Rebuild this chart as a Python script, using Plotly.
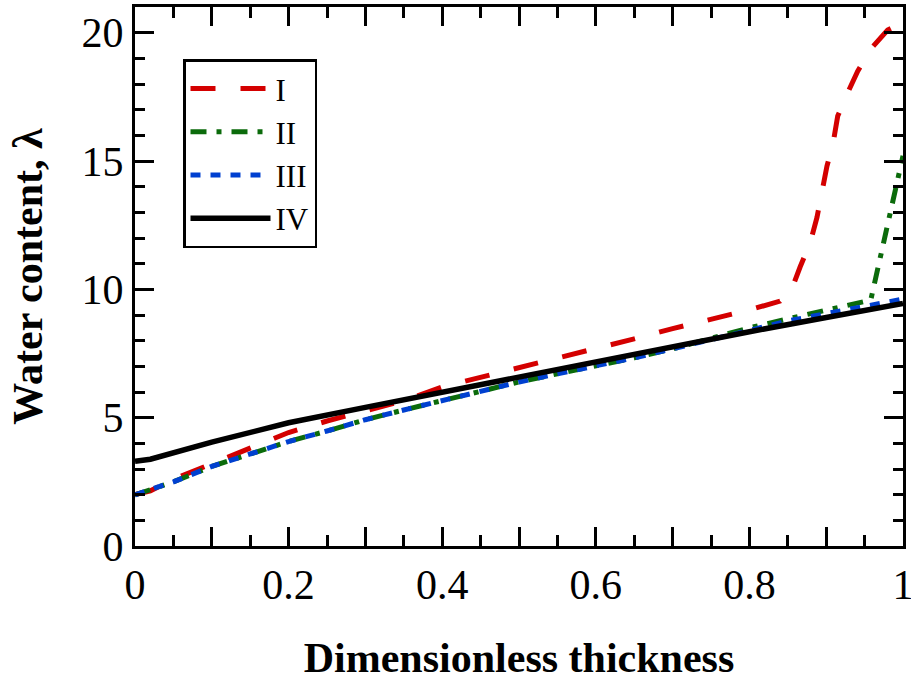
import plotly.graph_objects as go

# ---- data ----
x_I = [0, 0.02, 0.05, 0.1, 0.15, 0.2, 0.25, 0.3, 0.35, 0.4, 0.45, 0.5, 0.55, 0.6, 0.65, 0.7,
       0.75, 0.8, 0.84, 0.855, 0.866, 0.879, 0.888, 0.894, 0.901, 0.909, 0.915, 0.927, 0.941,
       0.959, 0.98, 1.0]
y_I = [2.0, 2.15, 2.6, 3.2, 3.8, 4.42, 4.87, 5.27, 5.66, 6.2, 6.57, 6.94, 7.3, 7.7, 8.07, 8.47,
       8.83, 9.2, 9.54, 10.0, 10.87, 11.8, 12.8, 13.75, 14.8, 15.7, 16.75, 17.6, 18.5,
       19.4, 20.1, 20.4]

x_II = [0, 0.05, 0.1, 0.15, 0.2, 0.25, 0.3, 0.35, 0.4, 0.45, 0.5, 0.55, 0.6, 0.65, 0.7, 0.75,
        0.8, 0.85, 0.9, 0.93, 0.958, 1.0]
y_II = [1.99, 2.5, 3.1, 3.58, 4.07, 4.48, 4.92, 5.3, 5.67, 6.06, 6.39, 6.71, 7.01, 7.33, 7.68,
        8.1, 8.5, 8.85, 9.17, 9.38, 9.58, 15.2]

x_III = [0, 0.05, 0.1, 0.15, 0.2, 0.25, 0.3, 0.35, 0.4, 0.45, 0.5, 0.55, 0.6, 0.65, 0.7, 0.75,
         0.8, 0.85, 0.9, 0.95, 1.0]
y_III = [1.99, 2.5, 3.1, 3.58, 4.07, 4.48, 4.92, 5.3, 5.67, 6.06, 6.39, 6.71, 7.01, 7.33, 7.68,
         8.02, 8.4, 8.77, 9.05, 9.36, 9.62]

x_IV = [0, 0.02, 0.1, 0.2, 0.3, 0.4, 0.5, 0.6, 0.7, 0.8, 0.9, 1.0]
y_IV = [3.3, 3.38, 4.05, 4.8, 5.4, 6.0, 6.6, 7.2, 7.8, 8.35, 8.9, 9.45]

series_names = ["I", "II", "III", "IV"]

x_tickvals = [0, 0.1, 0.2, 0.3, 0.4, 0.5, 0.6, 0.7, 0.8, 0.9, 1.0]
x_ticktext = ["0", "", "0.2", "", "0.4", "", "0.6", "", "0.8", "", "1"]
y_tickvals = [0, 5, 10, 15, 20]
y_ticktext = ["0", "5", "10", "15", "20"]

FONT = "Liberation Serif"

fig = go.Figure()
fig.add_trace(go.Scatter(x=x_I, y=y_I, mode="lines", name=series_names[0],
                         line=dict(color="#d40000", width=5, dash="25px,25px")))
fig.add_trace(go.Scatter(x=x_II, y=y_II, mode="lines", name=series_names[1],
                         line=dict(color="#0b6b0b", width=5, dash="16px,10px,5px,10px")))
fig.add_trace(go.Scatter(x=x_III, y=y_III, mode="lines", name=series_names[2],
                         line=dict(color="#0040d0", width=5, dash="10px,10px")))
fig.add_trace(go.Scatter(x=x_IV, y=y_IV, mode="lines", name=series_names[3],
                         line=dict(color="black", width=5.5)))

axis_common = dict(
    showline=True, linecolor="black", linewidth=3, mirror="allticks",
    ticks="inside", tickcolor="black", tickwidth=2.5,
    showgrid=False, zeroline=False, ticklabeloverflow="allow",
    tickfont=dict(family=FONT, size=42, color="black"),
)

fig.update_xaxes(
    range=[0, 1], tickmode="array", tickvals=x_tickvals, ticktext=x_ticktext,
    ticklen=19,
    minor=dict(dtick=0.05, ticks="inside", ticklen=11, tickwidth=2.5, tickcolor="black", showgrid=False),
    title=dict(text="<b>Dimensionless thickness</b>", font=dict(family=FONT, size=42, color="black"),
               standoff=38),
    **axis_common,
)
fig.update_yaxes(
    range=[0, 21], tickmode="array", tickvals=y_tickvals, ticktext=y_ticktext,
    ticklen=19,
    minor=dict(dtick=1, ticks="inside", ticklen=10, tickwidth=2.5, tickcolor="black", showgrid=False),
    title=dict(text="<b>Water content, λ</b>", font=dict(family=FONT, size=42, color="black"),
               standoff=26),
    **axis_common,
)

fig.update_layout(
    width=911, height=681,
    margin=dict(l=135, r=8, t=7, b=135, autoexpand=False),
    plot_bgcolor="white", paper_bgcolor="white",
    font=dict(family=FONT, color="black"),
    legend=dict(x=0.0625, y=0.903, xanchor="left", yanchor="top",
                bordercolor="black", borderwidth=2.5, bgcolor="white",
                font=dict(family=FONT, size=31, color="black"),
                itemwidth=80, tracegroupgap=0),
    showlegend=True,
)

fig.write_html("out.html")
